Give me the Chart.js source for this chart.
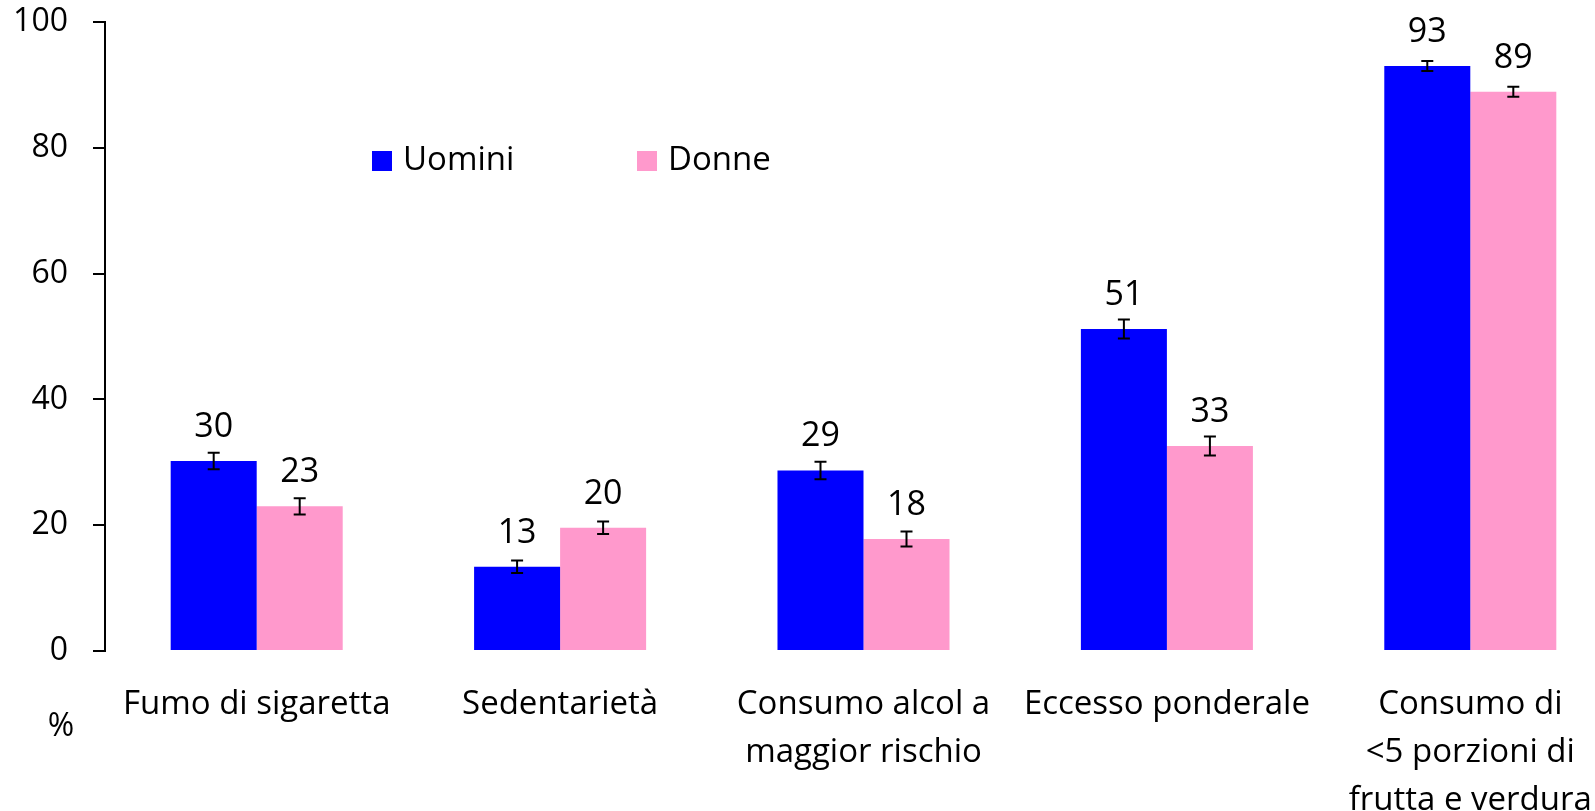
<!DOCTYPE html>
<html>
<head>
<meta charset="utf-8">
<script src="https://cdn.jsdelivr.net/npm/chart.js@4/dist/chart.umd.min.js"></script>
<style>
html,body{margin:0;padding:0;background:#fff;overflow:hidden;}
#wrap{width:1595px;height:811px;overflow:hidden;position:relative;}
canvas{display:block;}
</style>
</head>
<body>
<div id="wrap"><canvas id="c" width="1622" height="811"></canvas></div>
<script>
const categories = [
  ['Fumo di sigaretta'],
  ['Sedentarietà'],
  ['Consumo alcol a', 'maggior rischio'],
  ['Eccesso ponderale'],
  ['Consumo di', '<5 porzioni di', 'frutta e verdura']
];
const seriesNames = ['Uomini', 'Donne'];
const uomini = [30.2, 13.4, 28.7, 51.2, 93.0];
const donne = [23.0, 19.6, 17.8, 32.6, 88.9];
const uominiErr = [1.3, 1.0, 1.4, 1.5, 0.8];
const donneErr = [1.3, 1.0, 1.2, 1.5, 0.8];
const yTicks = [0, 20, 40, 60, 80, 100];
const yUnit = '%';

const FONT = '"Open Sans", sans-serif';
const colors = ['#0000FF', '#FF99CC'];
const errs = [uominiErr, donneErr];

const overlay = {
  id: 'overlay',
  afterDatasetsDraw(chart) {
    const ctx = chart.ctx;
    const y = chart.scales.y;
    ctx.save();
    chart.data.datasets.forEach((ds, di) => {
      const meta = chart.getDatasetMeta(di);
      meta.data.forEach((bar, i) => {
        const v = ds.data[i];
        const e = errs[di][i];
        const yTop = y.getPixelForValue(v + e);
        const yBot = y.getPixelForValue(v - e);
        const x = bar.x;
        ctx.strokeStyle = '#000';
        ctx.lineWidth = 2;
        ctx.beginPath();
        ctx.moveTo(x, yTop); ctx.lineTo(x, yBot);
        ctx.moveTo(x - 6, yTop); ctx.lineTo(x + 6, yTop);
        ctx.moveTo(x - 6, yBot); ctx.lineTo(x + 6, yBot);
        ctx.stroke();
        ctx.fillStyle = '#000';
        ctx.font = '34px ' + FONT;
        ctx.textAlign = 'center';
        ctx.textBaseline = 'alphabetic';
        ctx.fillText(String(Math.round(v)), x, Math.min(bar.y - 24, yTop - 11));
      });
    });
    // legend
    ctx.font = '33px ' + FONT;
    ctx.textAlign = 'left';
    ctx.textBaseline = 'middle';
    const lx = [372, 637];
    chart.data.datasets.forEach((ds, di) => {
      ctx.fillStyle = ds.backgroundColor;
      ctx.fillRect(lx[di], 151, 20, 20);
      ctx.fillStyle = '#000';
      ctx.fillText(ds.label, lx[di] + 31, 161);
    });
    // unit label
    ctx.textAlign = 'center';
    ctx.font = '32px ' + FONT;
    ctx.fillText(yUnit, 61, 727);
    ctx.restore();
  }
};

new Chart(document.getElementById('c'), {
  type: 'bar',
  data: {
    labels: categories,
    datasets: [
      { label: seriesNames[0], data: uomini, backgroundColor: colors[0] },
      { label: seriesNames[1], data: donne, backgroundColor: colors[1] }
    ]
  },
  options: {
    responsive: false,
    animation: false,
    layout: { padding: { top: 22, left: 0, right: 0, bottom: 0 } },
    categoryPercentage: 0.567,
    barPercentage: 1.0,
    plugins: { legend: { display: false }, tooltip: { enabled: false } },
    scales: {
      x: {
        grid: { display: false },
        border: { display: false },
        ticks: {
          color: '#000',
          font: { family: FONT, size: 33, lineHeight: 1.45 },
          padding: 22,
          maxRotation: 0,
          autoSkip: false
        },
        afterFit(s) { s.height = 160; s.paddingLeft = 0; s.paddingRight = 0; }
      },
      y: {
        min: 0, max: 100,
        afterBuildTicks(s) { s.ticks = yTicks.map(v => ({ value: v })); },
        grid: { drawOnChartArea: false, drawTicks: true, tickLength: 12, color: '#000', lineWidth: 2 },
        border: { display: true, color: '#000', width: 2 },
        ticks: {
          color: '#000',
          font: { family: FONT, size: 32 },
          padding: 25
        },
        afterFit(s) { s.width = 105; s.paddingTop = 0; s.paddingBottom = 0; }
      }
    }
  },
  plugins: [overlay]
});
</script>
</body>
</html>
